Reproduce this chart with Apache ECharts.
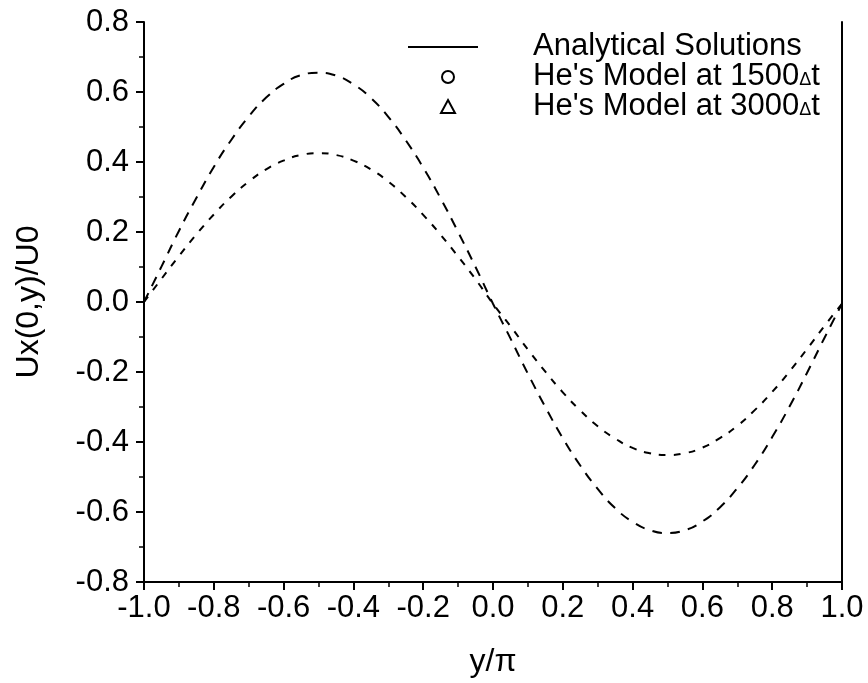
<!DOCTYPE html>
<html>
<head>
<meta charset="utf-8">
<script src="https://cdn.jsdelivr.net/npm/echarts@6/dist/echarts.min.js"></script>
<style>
html,body{margin:0;padding:0;background:#fff;}
#chart{width:868px;height:683px;}
</style>
</head>
<body>
<div id="chart"></div>
<script>
// x positions (y/pi)
var xValues = [-1.00,-0.95,-0.90,-0.85,-0.80,-0.75,-0.70,-0.65,-0.60,-0.55,-0.50,-0.45,-0.40,-0.35,-0.30,-0.25,-0.20,-0.15,-0.10,-0.05,0.00,0.05,0.10,0.15,0.20,0.25,0.30,0.35,0.40,0.45,0.50,0.55,0.60,0.65,0.70,0.75,0.80,0.85,0.90,0.95,1.00];
// profile at 1500 dt (larger amplitude)
var profile1500 = [0.000,0.101,0.203,0.297,0.386,0.463,0.530,0.584,0.623,0.648,0.655,0.647,0.622,0.583,0.529,0.462,0.384,0.296,0.200,0.100,-0.005,-0.104,-0.205,-0.300,-0.389,-0.467,-0.534,-0.589,-0.628,-0.652,-0.660,-0.652,-0.627,-0.587,-0.532,-0.465,-0.386,-0.298,-0.202,-0.102,-0.005];
// profile at 3000 dt (smaller amplitude)
var profile3000 = [0.000,0.066,0.131,0.193,0.250,0.301,0.344,0.379,0.404,0.420,0.425,0.420,0.404,0.379,0.344,0.300,0.249,0.192,0.130,0.065,-0.005,-0.069,-0.136,-0.199,-0.258,-0.310,-0.355,-0.390,-0.417,-0.432,-0.437,-0.432,-0.416,-0.389,-0.354,-0.309,-0.257,-0.198,-0.134,-0.068,-0.005];
var legendLabels = ["Analytical Solutions", "He's Model at 1500", "He's Model at 3000"];

function pairs(xs, ys){ return xs.map(function(x,i){ return [x, ys[i]]; }); }

var FONT = 'Liberation Sans';
var chart = echarts.init(document.getElementById('chart'), null, {renderer:'canvas'});
var axisCommon = {
  axisLine:{show:true, onZero:false, lineStyle:{color:'#000', width:2}},
  axisTick:{show:true, inside:false, length:8, lineStyle:{color:'#000', width:2}},
  minorTick:{show:true, splitNumber:2, length:5, lineStyle:{color:'#000', width:1.5}},
  splitLine:{show:false},
  axisLabel:{color:'#000', fontFamily:FONT, fontSize:31, formatter:function(v){ return (Math.abs(v)<1e-9?0:v).toFixed(1); }}
};
var option = {
  backgroundColor:'#fff',
  animation:false,
  grid:{left:144, right:26, top:22, bottom:100},
  xAxis:[Object.assign({}, axisCommon, {
    type:'value', min:-1, max:1, interval:0.2,
    name:'y/\u03c0', nameLocation:'middle', nameGap:64,
    nameTextStyle:{color:'#000', fontFamily:FONT, fontSize:32},
    axisLabel:Object.assign({}, axisCommon.axisLabel, {margin:11})
  })],
  yAxis:[Object.assign({}, axisCommon, {
    type:'value', min:-0.8, max:0.8, interval:0.2,
    name:'Ux(0,y)/U0', nameLocation:'middle', nameGap:99,
    nameTextStyle:{color:'#000', fontFamily:FONT, fontSize:32},
    axisLabel:Object.assign({}, axisCommon.axisLabel, {margin:15})
  }),{
    type:'value', min:-0.8, max:0.8, interval:0.2, position:'right',
    axisLine:{show:true, onZero:false, lineStyle:{color:'#000', width:2}},
    axisTick:{show:false}, axisLabel:{show:false}, splitLine:{show:false}
  }],
  series:[
    {name:'1500', type:'line', data:pairs(xValues, profile1500), showSymbol:false, symbol:'none', smooth:true,
     lineStyle:{color:'#000', width:2, type:[10,8]}},
    {name:'3000', type:'line', data:pairs(xValues, profile3000), showSymbol:false, symbol:'none', smooth:true,
     lineStyle:{color:'#000', width:2, type:[7,8]}}
  ],
  graphic:[
    {type:'line', shape:{x1:408, y1:47, x2:478, y2:47}, style:{stroke:'#000', lineWidth:2}},
    {type:'circle', shape:{cx:448, cy:77, r:6}, style:{fill:'none', stroke:'#000', lineWidth:2}},
    {type:'polygon', shape:{points:[[448,100],[455,113],[441,113]]}, style:{fill:'none', stroke:'#000', lineWidth:2}},
    {type:'text', left:533, top:31, style:{text:legendLabels[0], fill:'#000', font:'31px "Liberation Sans"'}},
    {type:'text', left:533, top:61, style:{text:legendLabels[1]+'{d|\u0394}t', fill:'#000', font:'31px "Liberation Sans"', rich:{d:{fontSize:18, fontFamily:FONT, fill:'#000', padding:[7,0,0,0]}}}},
    {type:'text', left:533, top:91, style:{text:legendLabels[2]+'{d|\u0394}t', fill:'#000', font:'31px "Liberation Sans"', rich:{d:{fontSize:18, fontFamily:FONT, fill:'#000', padding:[7,0,0,0]}}}}
  ]
};
chart.setOption(option);
</script>
</body>
</html>
